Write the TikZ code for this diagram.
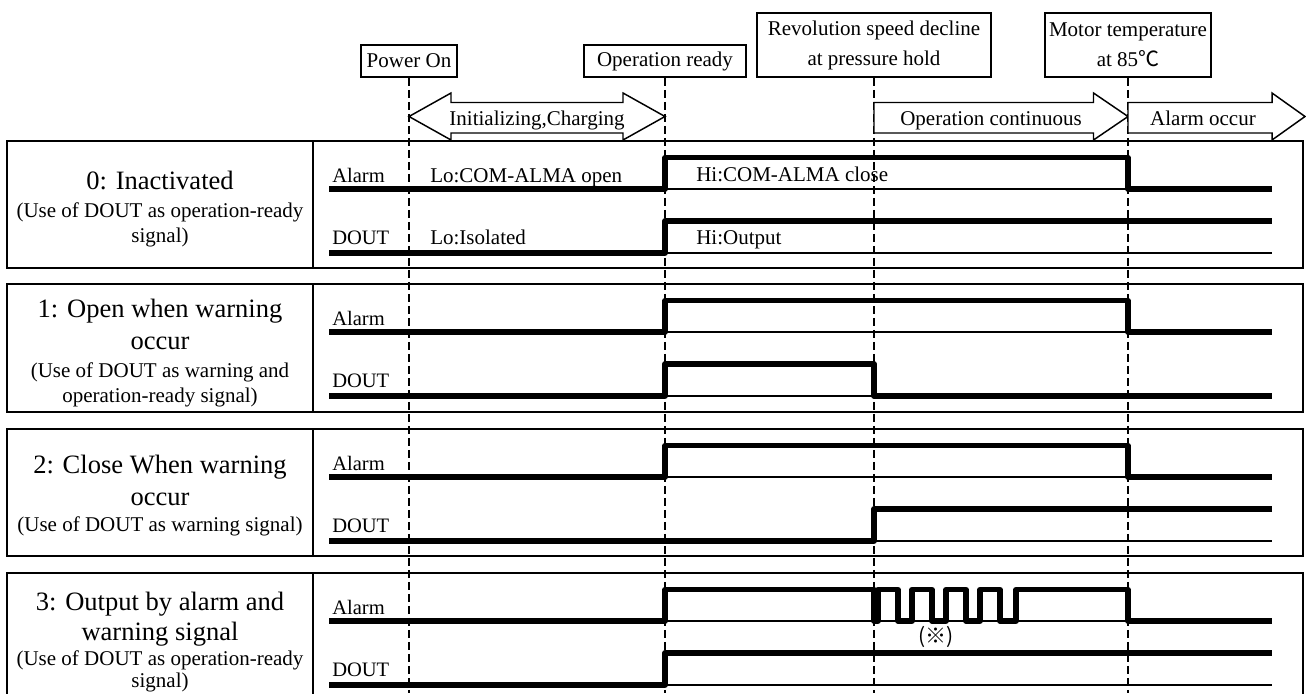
\documentclass[tikz,border=0pt]{standalone}
\usepackage{fontspec}
\setmainfont{Liberation Serif}
\newfontfamily\cjkfont{Noto Sans CJK JP}
\newcommand\fTtl{\fontsize{19.9}{24}\selectfont}
\newcommand\fSub{\fontsize{15.75}{19}\selectfont}
\newcommand\fLbl{\fontsize{15.4}{18}\selectfont}
\newcommand\fTop{\fontsize{15.75}{22.5}\selectfont}
\begin{document}
\begin{tikzpicture}[x=0.75pt,y=-0.75pt,
  topbox/.style={draw,line width=1.2pt,inner sep=0pt,align=center,font=\fTop,minimum height=24pt},
  tallbox/.style={topbox,minimum height=48pt},
  dashln/.style={line width=1.1pt,dash pattern=on 6pt off 3pt},
  panelframe/.style={line width=1.3pt},
  sig/.style={line width=3.8pt,line join=round},
  lowline/.style={line width=1.1pt},
  arrowshape/.style={draw,line width=1.1pt,fill=white,line join=miter},
  ttl/.style={font=\fTtl,anchor=base,inner sep=0pt},
  sub/.style={font=\fSub,anchor=base,inner sep=0pt},
  lbl/.style={font=\fLbl,anchor=base west,inner sep=0pt},
  note/.style={font=\fTop,anchor=base west,inner sep=0pt},
  atext/.style={font=\fTop,anchor=base,inner sep=0pt}
]
\useasboundingbox (0,0) rectangle (1306,693);
\clip (0,0) rectangle (1306,693);

% panels
\draw[panelframe] (7,141) rectangle (1303,268); \draw[panelframe] (313,141) -- (313,268);
\draw[panelframe] (7,284) rectangle (1303,412); \draw[panelframe] (313,284) -- (313,412);
\draw[panelframe] (7,429) rectangle (1303,556); \draw[panelframe] (313,429) -- (313,556);
\draw[panelframe] (7,573) rectangle (1303,700); \draw[panelframe] (313,573) -- (313,700);

% event boxes
\node[topbox,minimum width=72pt] (pwr) at (409,61) {Power On};
\node[topbox,minimum width=121.5pt] (rdy) at (665,61) {Operation ready};
\node[tallbox,minimum width=175.5pt] (rev) at (874,45) {Revolution speed decline\\at pressure hold};
\node[tallbox,minimum width=124.5pt] (mot) at (1128,45) {Motor temperature\\at 85{\cjkfont ℃}};

\coordinate (pwrE) at (409,693);
\coordinate (rdyE) at (665,693);
\coordinate (revE) at (874,693);
\coordinate (motE) at (1128,693);
\draw[dashln] (pwr.south) -- (pwrE);
\draw[dashln] (rdy.south) -- (rdyE);
\draw[dashln] (rev.south) -- (revE);
\draw[dashln] (mot.south) -- (motE);

% phase arrows
\draw[arrowshape] (409,116.5) -- (451,93) -- (451,102.5) -- (623,102.5) -- (623,93) -- (665,116.5)
  -- (623,140) -- (623,133) -- (451,133) -- (451,140) -- cycle;
\draw[arrowshape] (874,102.5) -- (1093.5,102.5) -- (1093.5,93) -- (1128,116.5) -- (1093.5,140)
  -- (1093.5,133) -- (874,133) -- cycle;
\draw[arrowshape] (1128,102.5) -- (1272,102.5) -- (1272,93) -- (1305,116.5) -- (1272,140)
  -- (1272,133) -- (1128,133) -- cycle;
\node[atext] (initT) at (537,125) {Initializing,Charging};
\node[atext] (contT) at (991,125) {Operation continuous};
\node[atext] (almT) at (1203,125) {Alarm occur};

% ---------- panel 0
\node[ttl] (t0a) at (160,189) {0: Inactivated};
\node[sub] (t0b) at (160,217) {(Use of DOUT as operation-ready};
\node[sub] (t0c) at (160,242) {signal)};
\node[lbl] (a0) at (332,182.5) {Alarm};
\node[lbl] (d0) at (332,244.5) {DOUT};
\node[note] (lo0a) at (430,182.5) {Lo:COM-ALMA open};
\node[note] (lo0d) at (430,244.5) {Lo:Isolated};
\node[note] (hi0a) at (696,181) {Hi:COM-ALMA close};
\node[note] (hi0d) at (696,244) {Hi:Output};
\draw[lowline] (665,189) -- (1128,189);
\draw[sig] (329,189) -- (665,189) -- (665,157.5) -- (1128,157.5) -- (1128,189) -- (1272,189);
\draw[lowline] (665,253) -- (1272,253);
\draw[sig] (329,253) -- (665,253) -- (665,221) -- (1272,221);

% ---------- panel 1
\node[ttl] (t1a) at (160,317.5) {1: Open when warning};
\node[ttl] (t1b) at (160,349.5) {occur};
\node[sub] (t1c) at (160,377) {(Use of DOUT as warning and};
\node[sub] (t1d) at (160,402) {operation-ready signal)};
\node[lbl] (a1) at (332,325.5) {Alarm};
\node[lbl] (d1) at (332,387.5) {DOUT};
\draw[lowline] (665,332) -- (1128,332);
\draw[sig] (329,332) -- (665,332) -- (665,300.5) -- (1128,300.5) -- (1128,332) -- (1272,332);
\draw[lowline] (665,396) -- (874,396);
\draw[sig] (329,396) -- (665,396) -- (665,364) -- (874,364) -- (874,396) -- (1272,396);

% ---------- panel 2
\node[ttl] (t2a) at (160,473) {2: Close When warning};
\node[ttl] (t2b) at (160,505) {occur};
\node[sub] (t2c) at (160,531.5) {(Use of DOUT as warning signal)};
\node[lbl] (a2) at (332,470.5) {Alarm};
\node[lbl] (d2) at (332,532.5) {DOUT};
\draw[lowline] (665,477) -- (1128,477);
\draw[sig] (329,477) -- (665,477) -- (665,445.5) -- (1128,445.5) -- (1128,477) -- (1272,477);
\draw[lowline] (874,541) -- (1272,541);
\draw[sig] (329,541) -- (874,541) -- (874,509) -- (1272,509);

% ---------- panel 3
\node[ttl] (t3a) at (160,610) {3: Output by alarm and};
\node[ttl] (t3b) at (160,640) {warning signal};
\node[sub] (t3c) at (160,665) {(Use of DOUT as operation-ready};
\node[sub] (t3d) at (160,687) {signal)};
\node[lbl] (a3) at (332,614.5) {Alarm};
\node[lbl] (d3) at (332,676.5) {DOUT};
\draw[lowline] (665,621) -- (1128,621);
\draw[sig] (329,621) -- (665,621) -- (665,589.5) -- (874,589.5) -- (874,621) -- (878,621)
  -- (878,589.5) -- (898,589.5) -- (898,621) -- (912,621)
  -- (912,589.5) -- (932,589.5) -- (932,621) -- (946,621)
  -- (946,589.5) -- (966,589.5) -- (966,621) -- (980,621)
  -- (980,589.5) -- (1000,589.5) -- (1000,621) -- (1016,621)
  -- (1016,589.5) -- (1128,589.5) -- (1128,621) -- (1272,621);
\node[font=\fTop,inner sep=0pt] (refm) at (936,637) {\cjkfont (※)};
\draw[lowline] (665,685) -- (1272,685);
\draw[sig] (329,685) -- (665,685) -- (665,653) -- (1272,653);
\end{tikzpicture}
\end{document}
